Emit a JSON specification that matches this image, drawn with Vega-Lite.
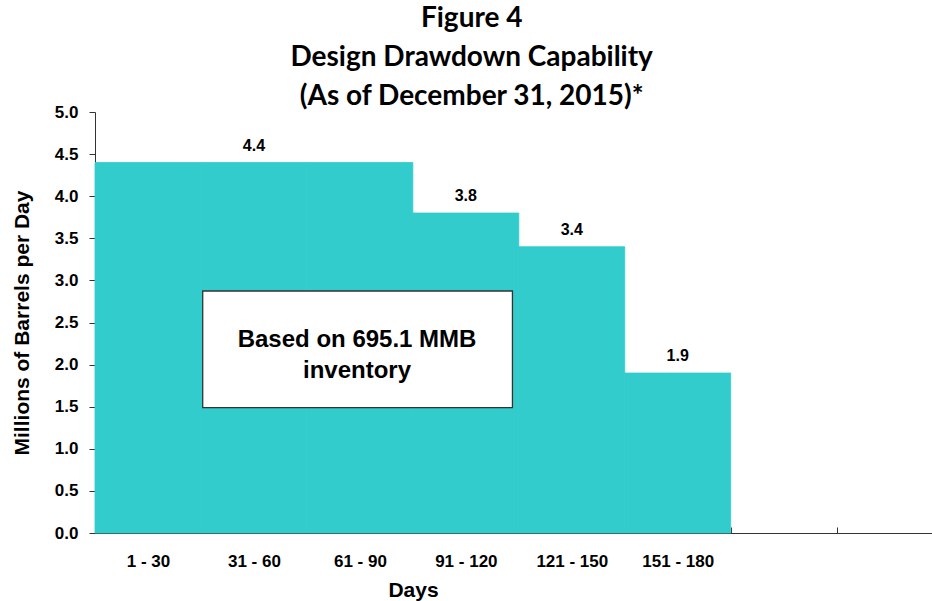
{
  "$schema": "https://vega.github.io/schema/vega-lite/v6.json",
  "width": 837,
  "height": 421,
  "autosize": {"type": "none"},
  "padding": {"left": 95, "top": 112, "right": 0, "bottom": 68},
  "background": "white",
  "config": {"view": {"stroke": null}, "font": "Liberation Sans"},
  "title": {
    "text": ["Figure 4", "Design Drawdown Capability", "(As of December 31, 2015)*"],
    "font": "Lato",
    "fontSize": 28,
    "fontWeight": "bold",
    "lineHeight": 39,
    "anchor": "middle",
    "frame": "bounds",
    "offset": -8,
    "color": "black"
  },
  "datasets": {
    "drawdown": [
      {"days": "1 - 30", "start": 0, "end": 30, "mbd": 4.4, "lbl": null},
      {"days": "31 - 60", "start": 30, "end": 60, "mbd": 4.4, "lbl": "4.4"},
      {"days": "61 - 90", "start": 60, "end": 90, "mbd": 4.4, "lbl": null},
      {"days": "91 - 120", "start": 90, "end": 120, "mbd": 3.8, "lbl": "3.8"},
      {"days": "121 - 150", "start": 120, "end": 150, "mbd": 3.4, "lbl": "3.4"},
      {"days": "151 - 180", "start": 150, "end": 180, "mbd": 1.9, "lbl": "1.9"}
    ],
    "note": [
      {"x1": 30.5, "x2": 118.2, "y1": 2.874, "y2": 1.488, "xm": 74.2, "ym": 2.292, "t": ["Based on 695.1 MMB", "inventory"]}
    ]
  },
  "layer": [
    {
      "data": {"name": "drawdown"},
      "mark": {"type": "bar", "color": "#33CCCC", "stroke": "#33CCCC", "strokeWidth": 0.8},
      "encoding": {
        "x": {
          "field": "start",
          "type": "quantitative",
          "scale": {"domain": [0, 237], "nice": false, "zero": true},
          "axis": {
            "values": [0, 30, 60, 90, 120, 150, 180, 210],
            "labelExpr": "['1 - 30','31 - 60','61 - 90','91 - 120','121 - 150','151 - 180','',''][round(datum.value/30)]",
            "labelOffset": 53,
            "tickSize": -6,
            "labelPadding": 26,
            "labelFont": "Liberation Sans",
            "labelFontSize": 17,
            "labelFontWeight": "bold",
            "labelColor": "black",
            "labelOverlap": false,
            "labelBound": false,
            "labelFlush": false,
            "domainColor": "#333333",
            "tickColor": "#333333",
            "grid": false,
            "title": "Days",
            "titleFont": "Liberation Sans",
            "titleFontSize": 21,
            "titleFontWeight": "bold",
            "titleColor": "black",
            "titleX": 318,
            "titleY": 63,
            "titleBaseline": "alphabetic",
            "titleAnchor": null
          }
        },
        "x2": {"field": "end"},
        "y": {
          "field": "mbd",
          "type": "quantitative",
          "scale": {"domain": [0, 5], "nice": false},
          "axis": {
            "values": [0, 0.5, 1, 1.5, 2, 2.5, 3, 3.5, 4, 4.5, 5],
            "format": ".1f",
            "tickSize": 6,
            "labelPadding": 11,
            "labelFont": "Liberation Sans",
            "labelFontSize": 17,
            "labelFontWeight": "bold",
            "labelColor": "black",
            "domainColor": "#333333",
            "tickColor": "#333333",
            "grid": false,
            "title": "Millions of Barrels per Day",
            "titleFont": "Liberation Sans",
            "titleFontSize": 21,
            "titleFontWeight": "bold",
            "titleColor": "black",
            "titlePadding": 22
          }
        },
        "y2": {"datum": 0}
      }
    },
    {
      "data": {"name": "drawdown"},
      "transform": [
        {"filter": "datum.lbl != null"},
        {"calculate": "(datum.start + datum.end) / 2", "as": "mid"}
      ],
      "mark": {"type": "text", "font": "Liberation Sans", "fontSize": 16, "fontWeight": "bold", "baseline": "alphabetic", "align": "center", "dy": -12, "color": "black"},
      "encoding": {
        "x": {"field": "mid", "type": "quantitative"},
        "y": {"field": "mbd", "type": "quantitative"},
        "text": {"field": "lbl"}
      }
    },
    {
      "data": {"name": "note"},
      "mark": {"type": "rect", "fill": "white", "stroke": "#333333", "strokeWidth": 1.3},
      "encoding": {
        "x": {"field": "x1", "type": "quantitative"},
        "x2": {"field": "x2"},
        "y": {"field": "y1", "type": "quantitative"},
        "y2": {"field": "y2"}
      }
    },
    {
      "data": {"name": "note"},
      "mark": {"type": "text", "font": "Liberation Sans", "fontSize": 24, "fontWeight": "bold", "lineHeight": 31, "baseline": "middle", "align": "center", "color": "black"},
      "encoding": {
        "x": {"field": "xm", "type": "quantitative"},
        "y": {"field": "ym", "type": "quantitative"},
        "text": {"field": "t"}
      }
    }
  ]
}
